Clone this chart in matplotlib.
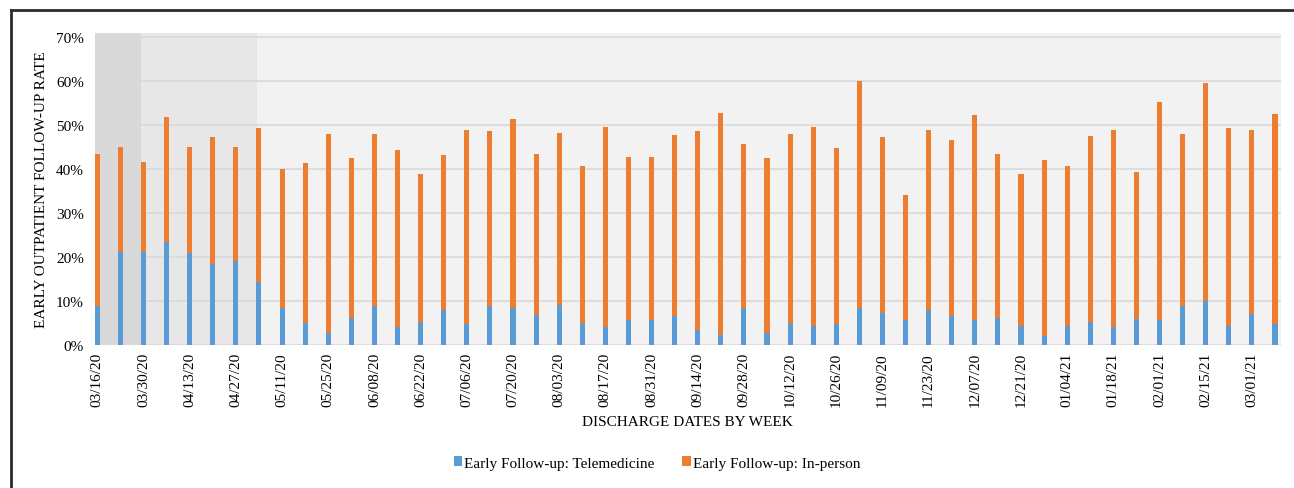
from __future__ import annotations

import matplotlib

matplotlib.use("Agg")
import matplotlib.pyplot as plt
import numpy as np
from matplotlib.lines import Line2D
from matplotlib.ticker import PercentFormatter

weeks = [
    "03/16/20", "03/23/20", "03/30/20", "04/06/20", "04/13/20", "04/20/20", "04/27/20",
    "05/04/20", "05/11/20", "05/18/20", "05/25/20", "06/01/20", "06/08/20", "06/15/20",
    "06/22/20", "06/29/20", "07/06/20", "07/13/20", "07/20/20", "07/27/20", "08/03/20",
    "08/10/20", "08/17/20", "08/24/20", "08/31/20", "09/07/20", "09/14/20", "09/21/20",
    "09/28/20", "10/05/20", "10/12/20", "10/19/20", "10/26/20", "11/02/20", "11/09/20",
    "11/16/20", "11/23/20", "11/30/20", "12/07/20", "12/14/20", "12/21/20", "12/28/20",
    "01/04/21", "01/11/21", "01/18/21", "01/25/21", "02/01/21", "02/08/21", "02/15/21",
    "02/22/21", "03/01/21", "03/08/21",
]

# rates in percent
telemedicine = [
    8.8, 21.2, 21.1, 23.4, 20.8, 18.3, 19.1, 14.3, 8.4, 5.0, 2.8, 6.2, 8.8,
    4.0, 5.2, 7.9, 4.7, 8.8, 8.3, 6.9, 9.2, 5.0, 4.1, 5.7, 5.7, 6.5,
    3.4, 2.3, 8.5, 2.7, 4.9, 4.3, 4.7, 8.5, 7.2, 5.7, 8.0, 6.7, 5.6,
    6.1, 4.3, 2.1, 4.4, 5.2, 4.0, 5.9, 5.7, 8.8, 10.1, 4.4, 7.1, 4.8,
]
in_person = [
    34.6, 23.8, 20.5, 28.5, 24.1, 29.0, 26.0, 34.9, 31.5, 36.3, 45.1, 36.3, 39.2,
    40.4, 33.7, 35.2, 44.1, 39.8, 43.0, 36.4, 39.0, 35.7, 45.4, 37.1, 37.1, 41.3,
    45.2, 50.5, 37.2, 39.8, 43.0, 45.2, 40.0, 51.5, 40.0, 28.4, 40.8, 39.9, 46.7,
    37.3, 34.6, 40.0, 36.3, 42.4, 44.8, 33.4, 49.5, 39.1, 49.5, 44.8, 41.7, 47.8,
]

series_labels = ["Early Follow-up: Telemedicine", "Early Follow-up: In-person"]
y_ticks = [0, 10, 20, 30, 40, 50, 60, 70]

# shaded early-pandemic periods, as category positions
shade_spans = [(-0.6, 1.9, "#d9d9d9"), (1.9, 6.9, "#e7e7e7")]

BLUE = "#5b9bd5"
ORANGE = "#ed7d31"
SERIF = ["Liberation Serif", "DejaVu Serif"]


def draw_chart(out_png: str) -> None:
    plt.rcParams["font.family"] = SERIF
    fig = plt.figure(figsize=(12.94, 4.89), dpi=100)
    ax = fig.add_axes([95 / 1294, 1 - 346 / 489, (1281 - 95) / 1294, (346 - 34) / 489])
    ax.set_facecolor("#f2f2f2")

    x = np.arange(len(weeks))
    for start, end, color in shade_spans:
        ax.axvspan(start, end, color=color, lw=0, zorder=0)

    ax.set_yticks(y_ticks)
    ax.yaxis.set_major_formatter(PercentFormatter(decimals=0))
    ax.grid(axis="y", color="#d9d9d9", lw=1.2, zorder=1)
    ax.set_axisbelow(True)

    width = 0.22
    ax.bar(x, telemedicine, width=width, color=BLUE, label=series_labels[0], zorder=3)
    ax.bar(x, in_person, width=width, bottom=telemedicine, color=ORANGE,
           label=series_labels[1], zorder=3)

    ax.set_xlim(-0.1, len(weeks) - 1 + 0.26)
    ax.set_ylim(0, 70.9)
    ax.set_xticks(x[::2])
    ax.set_xticklabels(weeks[::2], rotation=90, fontsize=11)
    ax.tick_params(axis="x", length=0, pad=5)
    ax.tick_params(axis="y", length=0, pad=8, labelsize=11)
    for spine in ax.spines.values():
        spine.set_visible(False)

    fig.text(42 / 1294, 1 - 190 / 489, "EARLY OUTPATIENT FOLLOW-UP RATE", rotation=90,
             ha="center", va="center", fontsize=11)
    fig.text(687 / 1294, 1 - 422 / 489, "DISCHARGE DATES BY WEEK",
             ha="center", va="center", fontsize=11)

    handles, labels = ax.get_legend_handles_labels()
    fig.legend(handles, labels, loc="center", bbox_to_anchor=(657 / 1294, 1 - 464 / 489),
               ncol=2, frameon=False, fontsize=11, handlelength=0.55, handleheight=0.55,
               handletextpad=0.15, columnspacing=1.8)

    # frame lines around the figure
    fig.add_artist(Line2D([10.5 / 1294, 10.5 / 1294], [0, 1 - 11 / 489],
                          transform=fig.transFigure, color="#2b2b2b", lw=2))
    fig.add_artist(Line2D([10.5 / 1294, 1], [1 - 11 / 489, 1 - 11 / 489],
                          transform=fig.transFigure, color="#2b2b2b", lw=2))

    fig.savefig(out_png, dpi=100)
    plt.close(fig)


def main() -> None:
    draw_chart("out.png")


if __name__ == "__main__":
    main()
